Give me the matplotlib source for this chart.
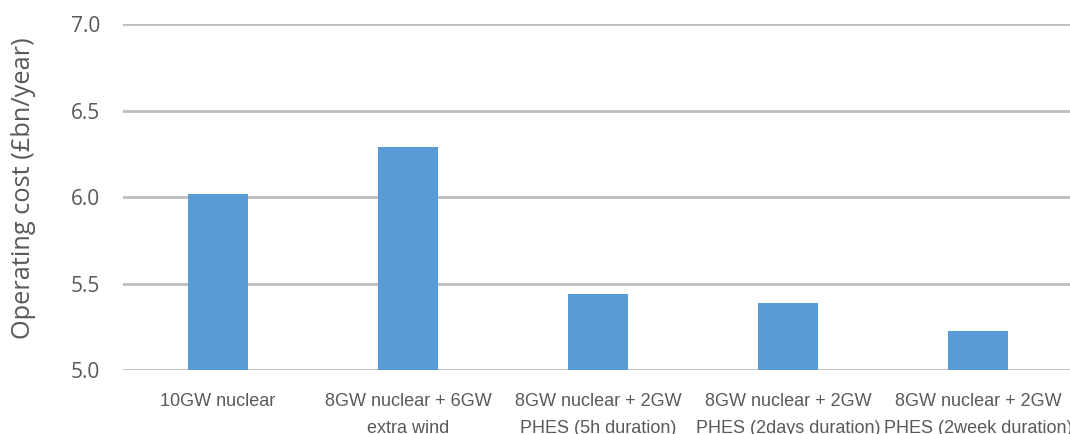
import matplotlib.pyplot as plt
import numpy as np

scenarios = [
    "10GW nuclear",
    "8GW nuclear + 6GW\nextra wind",
    "8GW nuclear + 2GW\nPHES (5h duration)",
    "8GW nuclear + 2GW\nPHES (2days duration)",
    "8GW nuclear + 2GW\nPHES (2week duration)",
]
operating_cost = [6.02, 6.29, 5.44, 5.39, 5.23]
y_ticks = [5.0, 5.5, 6.0, 6.5, 7.0]

text_grey = "#595959"
bar_blue = "#5B9BD5"

fig = plt.figure(figsize=(10.70, 4.34), dpi=100)
# axes run a little past the right edge so the last label is cut off
ax = fig.add_axes([123 / 1070, 0.1468, 950 / 1070, 0.797])

x = np.arange(len(scenarios))
ax.bar(x, operating_cost, width=0.315, color=bar_blue, zorder=3)

ax.set_xlim(-0.5, len(scenarios) - 0.5)
ax.set_ylim(5.0, 7.0)
ax.set_yticks(y_ticks)
ax.set_yticklabels([f"{v:.1f}" for v in y_ticks])
ax.yaxis.grid(True, color="#BDBDBD", linewidth=2.0, zorder=0)
ax.set_axisbelow(True)

for s in ax.spines.values():
    s.set_visible(False)
ax.tick_params(axis="both", length=0)
ax.tick_params(axis="y", labelsize=15, labelcolor=text_grey, pad=16.5)
ax.set_xticks(x)
ax.set_xticklabels(scenarios, fontsize=13, color=text_grey,
                   family=["Liberation Sans", "DejaVu Sans"],
                   linespacing=1.8)
ax.tick_params(axis="x", pad=16)
for lab in ax.get_yticklabels():
    lab.set_family(["Open Sans", "DejaVu Sans"])

ax.set_ylabel("Operating cost (£bn/year)", fontsize=18.3, color=text_grey,
              family=["Open Sans", "DejaVu Sans"], va="center")
ax.yaxis.set_label_coords(-0.105, 0.527)

plt.savefig("out.png", dpi=100)
